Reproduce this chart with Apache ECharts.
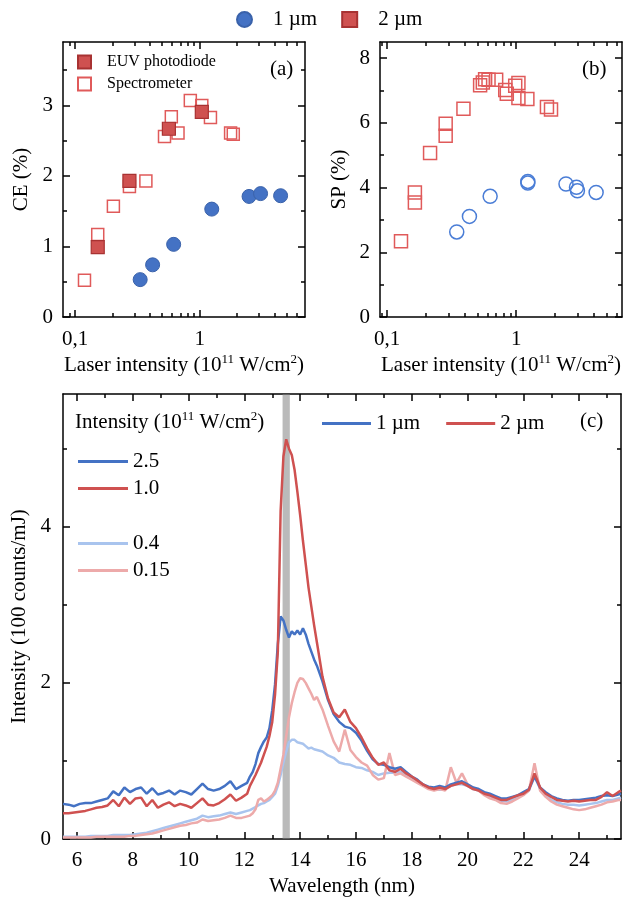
<!DOCTYPE html>
<html><head><meta charset="utf-8">
<script src="https://cdn.jsdelivr.net/npm/echarts@6/dist/echarts.min.js"></script>
<style>html,body{margin:0;padding:0;background:#fff}#c{width:623px;height:899px}</style>
</head><body><div id="c"></div>
<script>
// ---------- data: panel (a) conversion efficiency ----------
const ceBlueX  = [0.333,0.419,0.618,1.25,2.49,3.08,4.46];
const ceBlueY  = [0.53,0.74,1.03,1.53,1.71,1.75,1.72];
const ceDiodeX = [0.152,0.273,0.566,1.04];
const ceDiodeY = [0.99,1.93,2.67,2.91];
const ceSpecX  = [0.119,0.152,0.203,0.273,0.370,0.522,0.592,0.670,0.841,1.04,1.22,1.77,1.86];
const ceSpecY  = [0.52,1.17,1.57,1.85,1.93,2.56,2.84,2.61,3.07,3.00,2.83,2.61,2.59];
// ---------- data: panel (b) spectral purity ----------
const spRedX  = [0.128,0.164,0.164,0.215,0.284,0.284,0.390,0.525,0.551,0.574,0.610,0.699,0.822,0.845,0.982,1.04,1.04,1.22,1.73,1.86];
const spRedY  = [2.34,3.85,3.54,5.07,5.97,5.60,6.44,7.16,7.25,7.35,7.33,7.33,7.02,6.90,7.15,7.23,6.77,6.74,6.49,6.41];
const spBlueX = [0.346,0.434,0.628,1.23,1.23,2.43,2.93,2.98,4.16];
const spBlueY = [2.63,3.11,3.73,4.19,4.14,4.11,4.01,3.90,3.85];
// ---------- data: panel (c) spectra ----------
const wl = [5.5,5.7,5.9,6.1,6.3,6.5,6.7,6.9,7.1,7.3,7.5,7.7,7.9,8.1,8.3,8.5,8.7,8.9,9.1,9.3,9.5,9.7,9.9,10.1,10.3,10.5,10.7,10.9,11.1,11.3,11.5,11.7,11.9,12.1,
12.2,12.3,12.4,12.5,12.6,12.7,12.8,12.9,13.0,13.1,13.2,13.3,13.4,13.5,13.6,13.7,13.8,13.9,14.0,14.1,14.2,14.3,14.4,14.5,14.6,
14.8,15.0,15.2,15.4,15.6,15.8,16.0,16.2,16.4,16.6,16.8,17.0,17.2,17.4,17.6,17.8,18.0,18.2,18.4,18.6,18.8,19.0,19.2,19.4,19.6,19.8,20.0,20.2,20.4,20.6,20.8,21.0,21.2,21.4,21.6,21.8,22.0,22.2,22.4,22.6,22.8,23.0,23.2,23.4,23.6,23.8,24.0,24.2,24.4,24.6,24.8,25.0,25.2,25.4,25.5];
const blue25 = [0.45,0.44,0.42,0.45,0.46,0.46,0.48,0.50,0.52,0.61,0.56,0.66,0.60,0.64,0.66,0.58,0.65,0.57,0.59,0.62,0.57,0.62,0.60,0.57,0.64,0.71,0.64,0.62,0.64,0.68,0.74,0.64,0.68,0.72,
0.80,0.86,0.96,1.10,1.18,1.25,1.30,1.42,1.65,1.98,2.50,2.85,2.80,2.68,2.58,2.66,2.62,2.67,2.62,2.70,2.62,2.50,2.40,2.30,2.22,
2.02,1.78,1.60,1.50,1.44,1.42,1.36,1.26,1.13,1.02,0.96,0.95,0.92,0.90,0.92,0.86,0.80,0.76,0.70,0.67,0.66,0.68,0.66,0.70,0.72,0.74,0.70,0.66,0.64,0.60,0.58,0.55,0.52,0.52,0.54,0.56,0.60,0.64,0.80,0.66,0.60,0.55,0.52,0.50,0.49,0.50,0.50,0.51,0.52,0.53,0.55,0.56,0.55,0.57,0.58];
const red10 = [0.33,0.33,0.34,0.35,0.36,0.38,0.40,0.41,0.43,0.50,0.42,0.53,0.45,0.52,0.53,0.42,0.50,0.40,0.44,0.47,0.42,0.45,0.43,0.40,0.46,0.52,0.44,0.43,0.46,0.51,0.57,0.49,0.53,0.58,
0.68,0.75,0.82,0.90,0.98,1.08,1.18,1.32,1.50,1.85,2.40,4.20,4.90,5.12,5.00,4.92,4.73,4.45,4.15,3.82,3.52,3.22,2.98,2.74,2.52,
2.08,1.80,1.62,1.56,1.66,1.50,1.42,1.30,1.16,1.04,0.95,0.98,0.88,0.86,0.90,0.84,0.80,0.75,0.70,0.66,0.64,0.66,0.64,0.68,0.70,0.72,0.68,0.64,0.62,0.58,0.56,0.53,0.50,0.50,0.53,0.56,0.58,0.63,0.84,0.66,0.58,0.54,0.50,0.49,0.48,0.49,0.48,0.49,0.50,0.50,0.54,0.60,0.55,0.60,0.62];
const blue04 = [0.03,0.03,0.03,0.03,0.03,0.04,0.04,0.04,0.04,0.05,0.05,0.05,0.05,0.06,0.07,0.08,0.10,0.12,0.14,0.16,0.18,0.20,0.22,0.24,0.26,0.30,0.28,0.29,0.30,0.32,0.34,0.32,0.34,0.36,
0.37,0.39,0.41,0.43,0.45,0.46,0.48,0.50,0.54,0.58,0.68,0.82,0.98,1.12,1.24,1.27,1.27,1.24,1.23,1.22,1.19,1.16,1.17,1.15,1.14,
1.12,1.07,1.04,0.98,0.96,0.95,0.92,0.91,0.88,0.86,0.82,0.84,0.85,0.85,0.86,0.82,0.78,0.74,0.70,0.66,0.64,0.63,0.64,0.68,0.70,0.70,0.68,0.64,0.62,0.58,0.55,0.52,0.49,0.48,0.50,0.54,0.57,0.62,0.80,0.64,0.56,0.50,0.47,0.45,0.44,0.44,0.43,0.44,0.45,0.46,0.48,0.50,0.50,0.52,0.53];
const red015 = [0.02,0.02,0.02,0.02,0.02,0.02,0.03,0.03,0.03,0.03,0.03,0.03,0.04,0.04,0.05,0.06,0.07,0.09,0.11,0.13,0.15,0.17,0.18,0.20,0.21,0.25,0.23,0.24,0.25,0.27,0.30,0.27,0.27,0.29,
0.30,0.33,0.38,0.50,0.52,0.48,0.50,0.53,0.56,0.62,0.72,0.90,1.08,1.32,1.56,1.74,1.88,2.00,2.06,2.05,2.00,1.93,1.86,1.78,1.82,
1.66,1.45,1.25,1.12,1.40,1.14,1.05,0.98,0.94,0.82,0.76,0.78,1.10,0.82,0.84,0.80,0.76,0.72,0.68,0.64,0.62,0.64,0.62,0.92,0.72,0.84,0.70,0.66,0.62,0.56,0.52,0.50,0.46,0.45,0.48,0.52,0.56,0.62,0.97,0.62,0.54,0.48,0.44,0.42,0.40,0.38,0.37,0.38,0.40,0.42,0.44,0.47,0.48,0.50,0.50];
const euvBand = [13.37, 13.63];
// ---------- ticks ----------
const logMajorA = [0.1, 1];
const logMinorA = [0.09,0.2,0.3,0.4,0.5,0.6,0.7,0.8,0.9,2,3,4,5,6];
const logMinorB = [0.09,0.2,0.3,0.4,0.5,0.6,0.7,0.8,0.9,2,3,4,5,6];
const ceMajor = [0,1,2,3], ceMinor = [0.5,1.5,2.5,3.5];
const spMajor = [0,2,4,6,8], spMinor = [1,3,5,7];
const wlMajor = [6,8,10,12,14,16,18,20,22,24], wlMinor = [7,9,11,13,15,17,19,21,23,25];
const inMajor = [0,2,4], inMinor = [1,3,5];

const FONT = '"Liberation Serif","Times New Roman",serif';
const FS = 21;
const BLACK = {color:'#000', width:1.5};
const RICH = {
  n: {fontFamily: FONT, fontSize: FS, color:'#000', lineHeight: 25},
  s: {fontFamily: FONT, fontSize: 13, color:'#000', lineHeight: 12, verticalAlign:'top'}
};
const zip = (xs, ys) => xs.map((x, i) => [x, ys[i]]);

function frame(dim, gi, o) {
  const pos = dim === 'x' ? ['bottom','top'] : ['left','right'];
  const list = [];
  pos.forEach((p, side) => {
    [o.major, o.minor].forEach((vals, m) => {
      const main = side === 0 && m === 0;
      const ax = {
        gridIndex: gi, type: o.type, min: o.min, max: o.max, position: p,
        splitLine: {show:false}, silent: true,
        axisLine: {show: m === 0, onZero: false, lineStyle: BLACK},
        axisTick: {show: true, inside: true, length: m === 0 ? 7 : 4, customValues: vals, lineStyle: BLACK},
        axisLabel: main ? {show:true, customValues: o.major, formatter: o.fmt, margin: o.margin,
          fontFamily: FONT, fontSize: FS, color:'#000'} : {show:false}
      };
      if (o.type === 'log') ax.logBase = 10;
      if (main && o.name) {
        ax.name = o.name; ax.nameLocation = 'middle'; ax.nameGap = o.nameGap;
        ax.nameTextStyle = {fontFamily: FONT, fontSize: FS, color:'#000', rich: RICH};
      }
      list.push(ax);
    });
  });
  return list;
}
const logFmt = v => (v < 0.5 ? '0,1' : '1');
const xName = '{n|Laser intensity (10}{s|11}{n| W/cm}{s|2}{n|)}';

const xAxes = [
  ...frame('x', 0, {type:'log', min:0.08, max:7, major:logMajorA, minor:logMinorA, fmt:logFmt, margin:12, name:xName, nameGap:36}),
  ...frame('x', 1, {type:'log', min:0.088, max:6.6, major:logMajorA, minor:logMinorB, fmt:logFmt, margin:12, name:xName, nameGap:36}),
  ...frame('x', 2, {type:'value', min:5.5, max:25.5, major:wlMajor, minor:wlMinor, fmt:v=>String(v), margin:11, name:'{n|Wavelength (nm)}', nameGap:35})
];
const yAxes = [
  ...frame('y', 0, {type:'value', min:0, max:3.9, major:ceMajor, minor:ceMinor, fmt:v=>String(v), margin:10, name:'{n|CE (%)}', nameGap:29}),
  ...frame('y', 1, {type:'value', min:0, max:8.5, major:spMajor, minor:spMinor, fmt:v=>String(v), margin:10, name:'{n|SP (%)}', nameGap:28}),
  ...frame('y', 2, {type:'value', min:0, max:5.7, major:inMajor, minor:inMinor, fmt:v=>String(v), margin:12, name:'{n|Intensity (100 counts/mJ)}', nameGap:28})
];

const BLUE = '#4472C4', RED = '#CF5150', LBLUE = '#A9C4EE', PINK = '#EDAAAA';

const series = [
  {type:'scatter', name:'Spectrometer', xAxisIndex:0, yAxisIndex:0, symbol:'rect', symbolSize:12,
   itemStyle:{color:'rgba(255,255,255,0)', borderColor:'#E05A5A', borderWidth:1.5, opacity:1}, data: zip(ceSpecX, ceSpecY)},
  {type:'scatter', name:'EUV photodiode', xAxisIndex:0, yAxisIndex:0, symbol:'rect', symbolSize:13,
   itemStyle:{color:RED, borderColor:'#A83232', borderWidth:1.2, opacity:1}, data: zip(ceDiodeX, ceDiodeY)},
  {type:'scatter', name:'1 µm', xAxisIndex:0, yAxisIndex:0, symbol:'circle', symbolSize:14,
   itemStyle:{color:BLUE, borderColor:'#3A62AA', borderWidth:1, opacity:1}, data: zip(ceBlueX, ceBlueY)},
  {type:'scatter', name:'2 µm', xAxisIndex:0, yAxisIndex:0, symbol:'rect', symbolSize:13,
   itemStyle:{color:RED, borderColor:'#A83232', borderWidth:1.2, opacity:1}, data: []},
  {type:'scatter', name:'SP 2 µm', xAxisIndex:4, yAxisIndex:4, symbol:'rect', symbolSize:13,
   itemStyle:{color:'rgba(255,255,255,0)', borderColor:'#E05A5A', borderWidth:1.5, opacity:1}, data: zip(spRedX, spRedY)},
  {type:'scatter', name:'SP 1 µm', xAxisIndex:4, yAxisIndex:4, symbol:'circle', symbolSize:14,
   itemStyle:{color:'rgba(255,255,255,0)', borderColor:'#4A7DD6', borderWidth:1.5, opacity:1}, data: zip(spBlueX, spBlueY)},
  {type:'line', name:'0.4', xAxisIndex:8, yAxisIndex:8, symbol:'none', color:LBLUE, lineStyle:{color:LBLUE, width:2.5}, data: zip(wl, blue04)},
  {type:'line', name:'0.15', xAxisIndex:8, yAxisIndex:8, symbol:'none', color:PINK, lineStyle:{color:PINK, width:2.5}, data: zip(wl, red015)},
  {type:'line', name:'2.5', xAxisIndex:8, yAxisIndex:8, symbol:'none', color:BLUE, lineStyle:{color:BLUE, width:2.5}, data: zip(wl, blue25)},
  {type:'line', name:'1.0', xAxisIndex:8, yAxisIndex:8, symbol:'none', color:RED, lineStyle:{color:RED, width:2.5}, data: zip(wl, red10)},
  {type:'line', name:'band', xAxisIndex:8, yAxisIndex:8, symbol:'none', data: [], z: 5,
   markArea:{silent:true, itemStyle:{color:'rgba(130,130,130,0.55)'}, data:[[{xAxis:euvBand[0]},{xAxis:euvBand[1]}]]}}
];

const legText = (size, pad) => ({fontFamily: FONT, fontSize: size, color:'#000', padding: pad});
const option = {
  animation: false,
  backgroundColor: '#fff',
  grid: [
    {left:63, top:42, width:242, height:275, outerBoundsMode:'none'},
    {left:380, top:42, width:242, height:275, outerBoundsMode:'none'},
    {left:63, top:394, width:558, height:445, outerBoundsMode:'none'}
  ],
  xAxis: xAxes, yAxis: yAxes,
  legend: [
    {left:236, top:9, padding:0, itemWidth:15, itemHeight:15, itemGap:24, selectedMode:false,
     data:[{name:'1 µm', icon:'circle'}, {name:'2 µm', icon:'rect'}], textStyle: legText(FS, [0,0,0,16])},
    {left:77, top:54, padding:0, orient:'vertical', itemWidth:13, itemHeight:13, itemGap:6, selectedMode:false,
     data:[{name:'EUV photodiode', icon:'rect'}, {name:'Spectrometer', icon:'rect'}], textStyle: legText(16, [0,0,0,11])},
    {left:78, top:451, padding:0, orient:'vertical', itemWidth:50, itemHeight:3, itemGap:6, selectedMode:false,
     data:[{name:'2.5', icon:'rect'}, {name:'1.0', icon:'rect'}], textStyle: legText(FS, [0,0,0,0])},
    {left:78, top:533, padding:0, orient:'vertical', itemWidth:50, itemHeight:3, itemGap:6, selectedMode:false,
     data:[{name:'0.4', icon:'rect'}, {name:'0.15', icon:'rect'}], textStyle: legText(FS, [0,0,0,0])},
    {left:322, top:413, padding:0, itemWidth:49, itemHeight:3, itemGap:26, selectedMode:false,
     data:[{name:'2.5', icon:'rect'}, {name:'1.0', icon:'rect'}],
     formatter: n => (n === '2.5' ? '1 µm' : '2 µm'), textStyle: legText(FS, [0,0,0,0])}
  ],
  graphic: [
    {type:'text', left:270, top:59, style:{text:'(a)', font:FS + 'px ' + FONT, fill:'#000'}},
    {type:'text', left:582, top:59, style:{text:'(b)', font:FS + 'px ' + FONT, fill:'#000'}},
    {type:'text', left:580, top:411, style:{text:'(c)', font:FS + 'px ' + FONT, fill:'#000'}},
    {type:'text', left:75, top:410, style:{text:'{n|Intensity (10}{s|11}{n| W/cm}{s|2}{n|)}',
      rich:{n:{fontFamily:FONT, fontSize:FS, fill:'#000', lineHeight:25}, s:{fontFamily:FONT, fontSize:13, fill:'#000', lineHeight:12, verticalAlign:'top'}}}}
  ],
  series: series
};
const chart = echarts.init(document.getElementById('c'), null, {renderer:'canvas'});
chart.setOption(option);
</script>
</body></html>
